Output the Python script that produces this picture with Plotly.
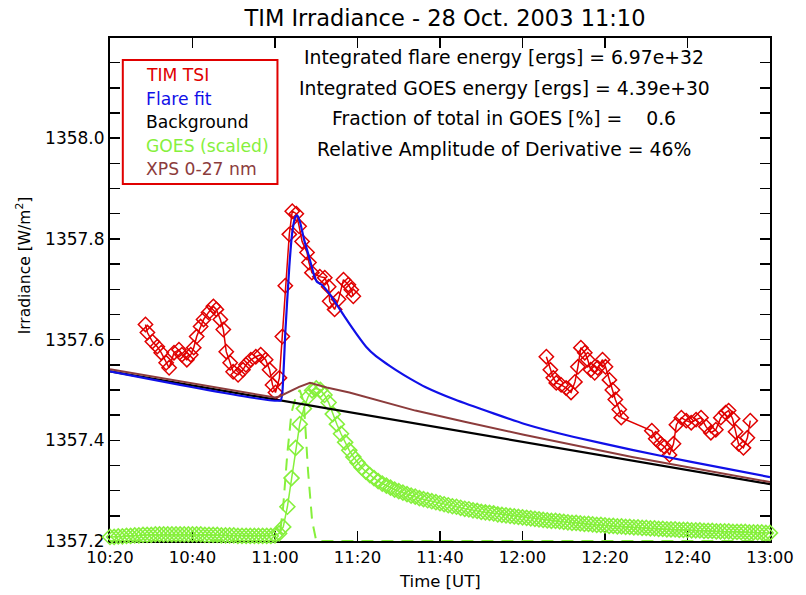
import plotly.graph_objects as go
import pandas as pd

DAY = "2003-10-28 "

# ---------------- data ----------------
tsi_times = [
    "10:28:36", "10:29:04", "10:30:16", "10:31:28", "10:32:25", "10:33:37", "10:34:20", "10:35:31",
    "10:36:43", "10:37:26", "10:38:38", "10:39:35", "10:40:18", "10:41:01", "10:41:58", "10:42:41",
    "10:43:53", "10:45:04", "10:45:47", "10:46:45", "10:47:28", "10:48:11", "10:49:08", "10:49:51",
    "10:51:03", "10:52:14", "10:52:57", "10:54:09", "10:55:21", "10:56:32", "10:57:44", "10:58:41",
    "10:59:24", "11:00:07", "11:01:04", "11:01:47", "11:02:30", "11:03:28", "11:04:11", "11:05:10",
    "11:05:51", "11:06:34", "11:07:46", "11:08:14", "11:08:57", "11:10:52", "11:12:04", "11:13:01",
    "11:13:15", "11:14:27", "11:15:24", "11:16:36", "11:17:47", "11:18:30", "11:18:59",
    None,
    "12:05:47", "12:06:45", "12:07:28", "12:08:11", "12:09:22", "12:10:34", "12:11:46", "12:12:43",
    "12:13:26", "12:14:09", "12:15:06", "12:15:49", "12:16:32", "12:17:30", "12:18:13", "12:19:24",
    "12:20:07", "12:21:04", "12:21:47", "12:22:30", "12:23:28", "12:23:56", "12:31:21", "12:32:18",
    "12:33:29", "12:34:27", "12:35:38", "12:36:36", "12:37:19", "12:38:31", "12:39:42", "12:40:54",
    "12:42:05", "12:43:17", "12:44:29", "12:45:40", "12:46:52", "12:48:04", "12:49:15", "12:49:58",
    "12:50:56", "12:51:39", "12:52:22", "12:53:33", "12:54:31", "12:55:13",
]
tsi_vals = [
    1357.630, 1357.614, 1357.596, 1357.586, 1357.574, 1357.554, 1357.544, 1357.574,
    1357.580, 1357.570, 1357.560, 1357.570, 1357.584, 1357.606, 1357.626, 1357.640,
    1357.654, 1357.666, 1357.660, 1357.640, 1357.620, 1357.576, 1357.554, 1357.536,
    1357.530, 1357.540, 1357.550, 1357.560, 1357.566, 1357.570, 1357.560, 1357.540,
    1357.510, 1357.495, 1357.524, 1357.606, 1357.707, 1357.809, 1357.855, 1357.850,
    1357.825, 1357.795, 1357.773, 1357.753, 1357.733, 1357.725, 1357.723, 1357.705,
    1357.676, 1357.660, 1357.680, 1357.719, 1357.709, 1357.699, 1357.686,
    None,
    1357.566, 1357.540, 1357.524, 1357.514, 1357.510, 1357.504, 1357.495, 1357.516,
    1357.546, 1357.584, 1357.574, 1357.560, 1357.540, 1357.534, 1357.544, 1357.560,
    1357.546, 1357.520, 1357.500, 1357.481, 1357.461, 1357.445, 1357.419, 1357.403,
    1357.393, 1357.387, 1357.371, 1357.393, 1357.431, 1357.445, 1357.439, 1357.435,
    1357.441, 1357.445, 1357.427, 1357.415, 1357.421, 1357.445, 1357.455, 1357.459,
    1357.443, 1357.417, 1357.393, 1357.385, 1357.405, 1357.439,
]

fit_times = ["10:20:00", "11:01:20", "11:01:47", "11:02:30", "11:03:28", "11:04:11", "11:04:54",
             "11:05:22", "11:06:05", "11:07:02", "11:08:14", "11:09:26", "11:10:09", "11:11:21",
             "11:13:01", "11:14:56", "11:16:50", "11:19:42", "11:22:05", "11:24:29", "11:26:52",
             "11:29:15", "11:32:50", "11:36:25", "11:43:35", "11:53:08", "12:00:18", "12:12:14",
             "12:26:34", "12:40:54", "13:00:00"]
fit_vals = [1357.537, 1357.479, 1357.495, 1357.614, 1357.745, 1357.813, 1357.843,
            1357.847, 1357.833, 1357.799, 1357.765, 1357.729, 1357.715, 1357.709,
            1357.693, 1357.670, 1357.646, 1357.612, 1357.586, 1357.567, 1357.553,
            1357.540, 1357.522, 1357.506, 1357.481, 1357.453, 1357.433, 1357.407,
            1357.381, 1357.357, 1357.327]

bg_times = ["10:20:00", "13:00:00"]
bg_vals = [1357.537, 1357.313]

xps_times = ["10:20:00", "10:40:00", "11:00:00", "11:01:04", "11:03:28", "11:05:51", "11:08:29",
             "11:12:32", "11:18:02", "11:26:09", "11:34:02", "11:45:58", "12:00:18", "12:26:34",
             "13:00:00"]
xps_vals = [1357.541, 1357.513, 1357.485, 1357.487, 1357.497, 1357.506, 1357.514,
            1357.505, 1357.495, 1357.477, 1357.459, 1357.437, 1357.411, 1357.367, 1357.317]

# GOES (scaled), one value per minute from 10:20 to 13:00
goes_vals = [
    1357.208, 1357.208, 1357.209, 1357.209, 1357.210, 1357.210, 1357.211, 1357.211, 1357.212, 1357.212,
    1357.212, 1357.213, 1357.213, 1357.213, 1357.213, 1357.213, 1357.213, 1357.213, 1357.213, 1357.213,
    1357.213, 1357.213, 1357.213, 1357.212, 1357.212, 1357.212, 1357.212, 1357.211, 1357.211, 1357.211,
    1357.211, 1357.210, 1357.210, 1357.210, 1357.210, 1357.210, 1357.210, 1357.210, 1357.210, 1357.210,
    1357.211,
    1357.215, 1357.228, 1357.268, 1357.325, 1357.385, 1357.432, 1357.463, 1357.486, 1357.499,
    1357.503, 1357.500, 1357.490, 1357.475, 1357.452, 1357.432, 1357.413, 1357.396, 1357.380, 1357.367,
    1357.356, 1357.346, 1357.338, 1357.331, 1357.325, 1357.319, 1357.314, 1357.310, 1357.306, 1357.302,
    1357.299, 1357.296, 1357.293, 1357.290, 1357.288, 1357.285, 1357.283, 1357.281, 1357.279, 1357.277,
    1357.275, 1357.273, 1357.271, 1357.269, 1357.268, 1357.266, 1357.264, 1357.263, 1357.261, 1357.260,
    1357.258, 1357.257, 1357.256, 1357.255, 1357.253, 1357.252, 1357.251, 1357.250, 1357.249, 1357.248,
    1357.247, 1357.246, 1357.245, 1357.244, 1357.243, 1357.242, 1357.241, 1357.240, 1357.240, 1357.239,
    1357.238, 1357.237, 1357.236, 1357.236, 1357.235, 1357.234, 1357.234, 1357.233, 1357.232, 1357.232,
    1357.231, 1357.230, 1357.230, 1357.229, 1357.229, 1357.228, 1357.228, 1357.227, 1357.227, 1357.226,
    1357.226, 1357.225, 1357.225, 1357.224, 1357.224, 1357.223, 1357.223, 1357.223, 1357.222, 1357.222,
    1357.222, 1357.221, 1357.221, 1357.221, 1357.220, 1357.220, 1357.220, 1357.219, 1357.219, 1357.219,
    1357.219, 1357.218, 1357.218, 1357.218, 1357.218, 1357.217, 1357.217, 1357.217, 1357.217, 1357.216,
    1357.216,
]

deriv_times = ["10:20:00", "11:01:00", "11:02:00", "11:03:00", "11:04:00", "11:05:00", "11:06:00",
               "11:07:00", "11:08:00", "11:09:00", "11:10:00", "13:00:00"]
deriv_vals = [1357.2, 1357.2, 1357.27, 1357.375, 1357.455, 1357.485, 1357.50,
              1357.475, 1357.34, 1357.24, 1357.2, 1357.2]

x_ticks = ["10:20", "10:40", "11:00", "11:20", "11:40", "12:00", "12:20", "12:40", "13:00"]
y_ticks = [1357.2, 1357.4, 1357.6, 1357.8, 1358.0]

legend_labels = ["TIM TSI", "Flare fit", "Background", "GOES (scaled)", "XPS 0-27 nm"]
info_lines = [
    "Integrated flare energy [ergs] = 6.97e+32",
    "Integrated GOES energy [ergs] = 4.39e+30",
    "Fraction of total in GOES [%] =\u00a0\u00a0\u00a0\u00a00.6",
    "Relative Amplitude of Derivative = 46%",
]

RED = "#e00000"
BLUE = "#1010e8"
BLACK = "#000000"
GREEN = "#86f03c"
BROWN = "#8c3c3c"
FONT = "DejaVu Sans"


def ts(lst):
    return [None if t is None else pd.Timestamp(DAY + t) for t in lst]


goes_times = pd.date_range(DAY + "10:20", DAY + "13:00", freq="1min")

fig = go.Figure()

fig.add_trace(go.Scatter(x=ts(deriv_times), y=deriv_vals, mode="lines",
                         line=dict(color=GREEN, width=2, dash="12px,8px"), cliponaxis=False))
fig.add_trace(go.Scatter(x=goes_times, y=goes_vals, mode="lines+markers",
                         line=dict(color=GREEN, width=1.5),
                         marker=dict(symbol="diamond-open", size=11.5, color=GREEN,
                                     line=dict(width=1.6, color=GREEN)), cliponaxis=False))
fig.add_trace(go.Scatter(x=ts(tsi_times), y=tsi_vals, mode="lines+markers", connectgaps=False,
                         line=dict(color=RED, width=1.5),
                         marker=dict(symbol="diamond-open", size=11, color=RED,
                                     line=dict(width=1.5, color=RED))))
fig.add_trace(go.Scatter(x=ts(bg_times), y=bg_vals, mode="lines", line=dict(color=BLACK, width=2.2)))
fig.add_trace(go.Scatter(x=ts(fit_times), y=fit_vals, mode="lines", line=dict(color=BLUE, width=2.2,
                                                                              shape="spline", smoothing=0.4)))
fig.add_trace(go.Scatter(x=ts(xps_times), y=xps_vals, mode="lines", line=dict(color=BROWN, width=2)))


# plot area in pixels: x 110..780, y 38..541
def px(x):
    return (x - 110) / 670.0


def py(y):
    return (541 - y) / 503.0


ann = []
for i, t in enumerate(info_lines):
    ann.append(dict(text=t, x=px(510), y=py(57 + 31 * i), xref="paper", yref="paper",
                    xanchor="center", yanchor="middle", showarrow=False,
                    font=dict(family=FONT, size=18.8, color="black")))
leg_colors = [RED, BLUE, BLACK, GREEN, BROWN]
for i, (t, c) in enumerate(zip(legend_labels, leg_colors)):
    ann.append(dict(text=t, x=px(145), y=py(75 + 23.5 * i), xref="paper", yref="paper",
                    xanchor="left", yanchor="middle", showarrow=False,
                    font=dict(family=FONT, size=17.2, color=c)))
ann.append(dict(text="Time [UT]", x=px(445), y=py(581), xref="paper", yref="paper",
                xanchor="center", yanchor="middle", showarrow=False,
                font=dict(family=FONT, size=16.5, color="black")))
ann.append(dict(text="Irradiance [W/m<sup>2</sup>]", x=px(22), y=py(265), xref="paper", yref="paper",
                xanchor="center", yanchor="middle", showarrow=False, textangle=-90,
                font=dict(family=FONT, size=15.5, color="black")))

fig.update_layout(
    width=806, height=595,
    margin=dict(l=110, r=26, t=38, b=54),
    paper_bgcolor="white", plot_bgcolor="white",
    showlegend=False,
    hovermode=False,
    title=dict(text="TIM Irradiance - 28 Oct. 2003 11:10", x=445 / 806, xanchor="center",
               y=1 - 18 / 595, yanchor="middle", yref="container",
               font=dict(family=FONT, size=22.5, color="black")),
    font=dict(family=FONT, size=16, color="black"),
    annotations=ann,
    shapes=[dict(type="rect", xref="paper", yref="paper", x0=px(123), x1=px(280),
                 y0=py(184), y1=py(60), line=dict(color=RED, width=2))],
)

fig.update_xaxes(
    type="date",
    range=[pd.Timestamp(DAY + "10:20"), pd.Timestamp(DAY + "13:00")],
    tickvals=[pd.Timestamp(DAY + t) for t in x_ticks], ticktext=x_ticks,
    ticks="inside", ticklen=10, tickwidth=1.5, tickcolor="black",
    showline=True, linecolor="black", linewidth=2, mirror="allticks",
    showgrid=False, zeroline=False, layer="below traces",
    tickfont=dict(family=FONT, size=16.5),
)
fig.update_yaxes(
    range=[1357.2, 1358.199],
    tickvals=y_ticks, ticktext=[f"{v:.1f}" for v in y_ticks],
    ticks="inside", ticklen=10, tickwidth=1.5, tickcolor="black",
    minor=dict(ticks="inside", ticklen=10, tickwidth=1.5, tickcolor="black",
               tickvals=[1357.25, 1357.3, 1357.35, 1357.45, 1357.5, 1357.55, 1357.65, 1357.7,
                         1357.75, 1357.85, 1357.9, 1357.95, 1358.05, 1358.1, 1358.15]),
    showline=True, linecolor="black", linewidth=2, mirror="allticks",
    showgrid=False, zeroline=False, layer="below traces",
    tickfont=dict(family=FONT, size=17),
)

fig.write_html("out.html", config={"displayModeBar": False, "staticPlot": True},
               post_script="document.body.style.margin='0';document.body.style.padding='0';")
